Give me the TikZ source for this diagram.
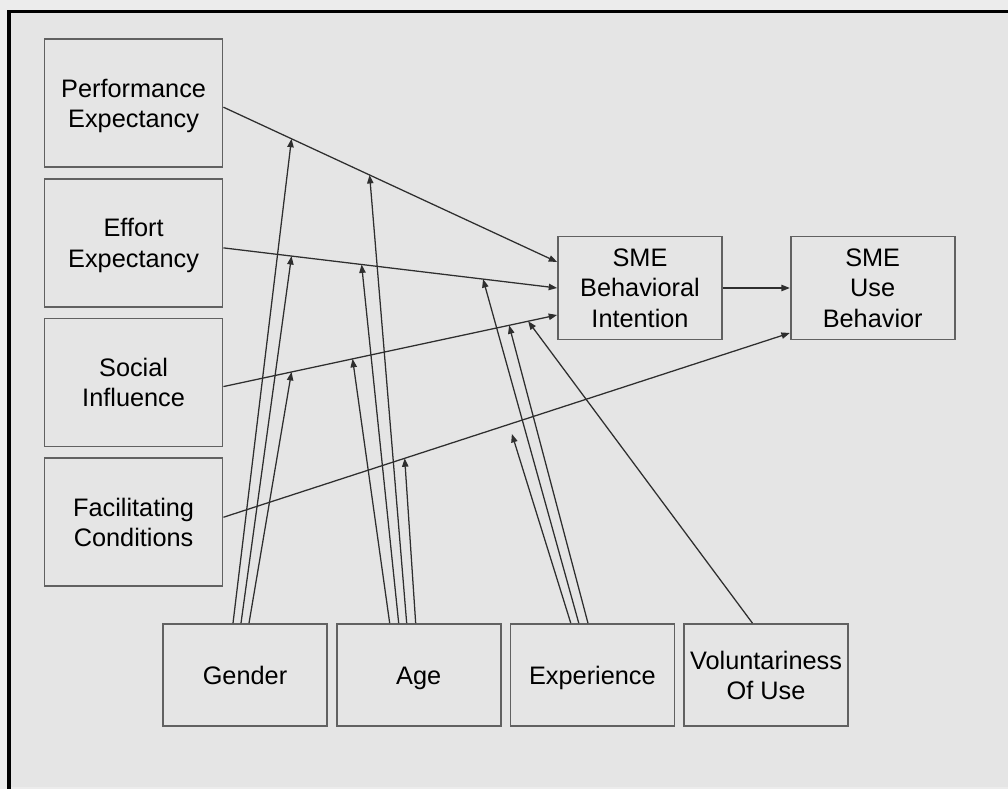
\documentclass[tikz,border=0pt]{standalone}
\usepackage{fontspec}
\setmainfont{Liberation Sans}
\usetikzlibrary{positioning,arrows.meta}
\definecolor{outerbg}{gray}{0.925}
\definecolor{innerbg}{gray}{0.9}
\definecolor{boxline}{gray}{0.38}
\definecolor{arrline}{gray}{0.18}

\begin{document}
\begin{tikzpicture}[%
      every node/.style={font=\fontsize{18}{21.5}\selectfont, align=center, inner sep=2pt,
        text depth=0pt, execute at begin node=\vphantom{Ed}},
      factor/.style={draw=boxline, line width=1.2pt, minimum width=4.45cm, minimum height=3.2cm},
      target/.style={draw=boxline, line width=1.2pt, minimum width=4.1cm, minimum height=2.575cm},
      moderator/.style={draw=boxline, line width=1.2pt, minimum width=4.1cm, minimum height=2.55cm},
      link/.style={draw=arrline, line width=0.9pt, -{Triangle[length=6pt,width=4.5pt]}}]
    \useasboundingbox (0,0) rectangle (25.2,-19.725);
    \fill[outerbg] (0,0) rectangle (25.2,-19.725);
    \fill[innerbg] (0.225,-0.2875) rectangle (25.2,-19.68);
    \draw[line width=2.4pt] (0.225,-19.725) -- (0.225,-0.2875) -- (25.2,-0.2875);

    \node[factor] (pe) at (3.34,-2.58) {Performance\\Expectancy};
    \node[factor, below=0.25cm of pe] (ee) {Effort\\Expectancy};
    \node[factor, below=0.25cm of ee] (si) {Social\\Influence};
    \node[factor, below=0.25cm of si] (fc) {Facilitating\\Conditions};

    \node[target] (bi) at (16,-7.2) {SME\\Behavioral\\Intention};
    \node[target, right=1.675cm of bi] (ub) {SME\\Use\\Behavior};

    \node[moderator] (gender) at (6.125,-16.875) {Gender};
    \node[moderator, right=0.2cm of gender] (age) {Age};
    \node[moderator, right=0.2cm of age] (exp) {Experience};
    \node[moderator, right=0.2cm of exp] (vol) {Voluntariness\\Of Use};

    \draw[link] ([yshift=-0.1cm]pe.east) -- coordinate[pos=0.204] (pe1)
      coordinate[pos=0.438] (pe2) ([yshift=0.65cm]bi.west);
    \draw[link] ([yshift=-0.125cm]ee.east) -- coordinate[pos=0.204] (ee1)
      coordinate[pos=0.414] (ee2) coordinate[pos=0.778] (ee3) (bi.west);
    \draw[link] ([yshift=-0.1cm]si.east) -- coordinate[pos=0.204] (si1)
      coordinate[pos=0.387] (si2) coordinate[pos=0.856] (si3)
      coordinate[pos=0.913] (si4) ([yshift=-0.675cm]bi.west);
    \draw[link] ([yshift=0.125cm]fc.east) -- coordinate[pos=0.32] (fc1)
      coordinate[pos=0.504] (fc2) ([yshift=-1.125cm]ub.west);
    \draw[link] (bi.east) -- (ub.west);

    \draw[link] ([xshift=-0.3cm]gender.north) -- (pe1);
    \draw[link] ([xshift=-0.1cm]gender.north) -- (ee1);
    \draw[link] ([xshift=0.1cm]gender.north) -- (si1);
    \draw[link] ([xshift=-0.725cm]age.north) -- (si2);
    \draw[link] ([xshift=-0.5cm]age.north) -- (ee2);
    \draw[link] ([xshift=-0.3cm]age.north) -- (pe2);
    \draw[link] ([xshift=-0.075cm]age.north) -- (fc1);
    \draw[link, shorten >=0.25cm] ([xshift=-0.54cm]exp.north) -- (fc2);
    \draw[link] ([xshift=-0.34cm]exp.north) -- (ee3);
    \draw[link] ([xshift=-0.11cm]exp.north) -- (si3);
    \draw[link] ([xshift=-0.34cm]vol.north) -- (si4);
  \end{tikzpicture}
\end{document}
